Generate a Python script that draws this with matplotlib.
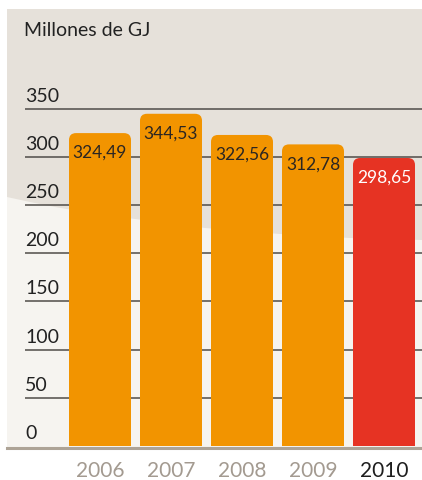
import matplotlib
matplotlib.use("Agg")
import matplotlib.pyplot as plt
from matplotlib.patches import FancyBboxPatch, Rectangle, Polygon
from matplotlib.lines import Line2D
import numpy as np

years = ["2006", "2007", "2008", "2009", "2010"]
values = [324.49, 344.53, 322.56, 312.78, 298.65]
value_labels = ["324,49", "344,53", "322,56", "312,78", "298,65"]
yticks = [0, 50, 100, 150, 200, 250, 300, 350]
title = "Millones de GJ"

ORANGE = "#F29400"
RED = "#E63323"
BEIGE = "#E6E1DA"
LIGHT = "#F6F4F0"
TAN = "#ADA396"
FONT = "Lato"

W, H = 422, 481
fig = plt.figure(figsize=(W / 100, H / 100), dpi=100)
fig.patch.set_facecolor("white")

def fx(px):
    return px / W

def fy(py):
    return 1 - py / H

# background panel
fig.patches.append(Rectangle((fx(7), fy(448)), fx(422) - fx(7), fy(10) - fy(448),
                             transform=fig.transFigure, facecolor=BEIGE, edgecolor="none", zorder=-10))
# lighter lower region with curved boundary
curve_x = [7, 30, 55, 90, 135, 205, 280, 350, 422]
curve_y = [198, 203, 208, 214, 220, 229, 235, 239, 241]
pts = [(fx(x), fy(y)) for x, y in zip(curve_x, curve_y)] + [(fx(422), fy(448)), (fx(7), fy(448))]
fig.patches.append(Polygon(pts, closed=True, transform=fig.transFigure,
                           facecolor=LIGHT, edgecolor="none", zorder=-9))

# axes: 0 at y=447px, 350 at y=109px
px_per_unit = (447 - 109.5) / 350
ax_left, ax_right = 25, 422
ax_bottom, ax_top = 447, 10
ax = fig.add_axes([fx(ax_left), fy(ax_bottom), fx(ax_right) - fx(ax_left), fy(ax_top) - fy(ax_bottom)])
ax.set_facecolor("none")
ax.set_zorder(1)
ymax = (ax_bottom - ax_top) / px_per_unit
ax.set_ylim(0, ymax)
step = 71
xlo = -(100 - ax_left) / step
xhi = xlo + (ax_right - ax_left) / step
ax.set_xlim(xlo, xhi)
for s in ax.spines.values():
    s.set_visible(False)
ax.set_xticks([])
ax.set_yticks([])

# gridlines and tick labels
for t in yticks:
    if t > 0:
        ax.axhline(t, color="#4F4C48", lw=1.1, zorder=1)
    ax.annotate(str(t), xy=(xlo, t), xytext=(0, 5), textcoords="offset pixels",
                ha="left", va="bottom", fontsize=14, color="#222222", family=FONT)

# baseline
fig.lines.append(Line2D([fx(7), fx(422)], [fy(448.5), fy(448.5)], transform=fig.transFigure,
                        color=TAN, lw=2.2, zorder=3))

# bars
x = np.arange(len(years))
colors = [ORANGE] * 4 + [RED]
bars = ax.bar(x, values, width=62 / step, color=colors, zorder=2)
radius_px = 7
for b, c in zip(bars, colors):
    b.set_visible(False)
    x0, w, h = b.get_x(), b.get_width(), b.get_height()
    r = radius_px / step
    aspect = (1 / px_per_unit) / (1 / step)
    p = FancyBboxPatch((x0, 0), w, h, boxstyle=f"round,pad=0,rounding_size={r}",
                       mutation_aspect=aspect, facecolor=c, edgecolor="none", zorder=2)
    ax.add_patch(p)
    ax.add_patch(Rectangle((x0, 0), w, h / 2, facecolor=c, edgecolor="none", zorder=2))

# value labels
for i, (v, lab) in enumerate(zip(values, value_labels)):
    ax.annotate(lab, xy=(x[i], v), xytext=(0, -19), textcoords="offset pixels",
                ha="center", va="center", fontsize=12.5, family=FONT,
                color="white" if i == len(values) - 1 else "#2B2622", zorder=4)

# year labels
for i, yr in enumerate(years):
    ax.annotate(yr, xy=(x[i], 0), xytext=(0, -24), textcoords="offset pixels",
                ha="center", va="center", fontsize=15, family=FONT,
                color="#1E1E1E" if i == len(years) - 1 else "#A39A90", annotation_clip=False)

# title
fig.text(fx(24), fy(31), title, ha="left", va="center", fontsize=14, family=FONT, color="#222222")

fig.savefig("out.png", dpi=100, facecolor="white")
